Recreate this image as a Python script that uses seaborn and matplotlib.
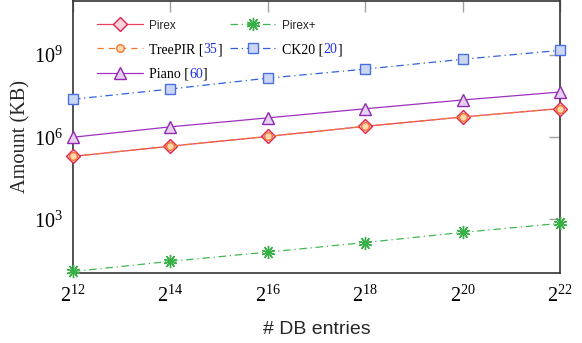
import numpy as np
import pandas as pd
import matplotlib
matplotlib.use("Agg")
import matplotlib.pyplot as plt
import seaborn as sns
from matplotlib.ticker import FixedLocator, NullLocator

sns.set_theme(style="white")
plt.rcParams['font.family'] = ['Liberation Serif', 'DejaVu Sans']
plt.rcParams['mathtext.fontset'] = 'custom'
plt.rcParams['mathtext.rm'] = 'Liberation Serif'
plt.rcParams['mathtext.it'] = 'Liberation Serif:italic'

# ---- data ----
db_entries = [2**12, 2**14, 2**16, 2**18, 2**20, 2**22]
pirex = [2.0e5, 4.7e5, 1.07e6, 2.5e6, 5.5e6, 1.12e7]
pirex_plus = [12.3, 29, 63, 141, 331, 708]
treepir = [2.0e5, 4.7e5, 1.07e6, 2.5e6, 5.5e6, 1.12e7]
ck20 = [2.45e7, 5.8e7, 1.45e8, 3.1e8, 7.1e8, 1.5e9]
piano = [1.0e6, 2.4e6, 5.1e6, 1.1e7, 2.3e7, 4.5e7]
x_tick_exps = [12, 14, 16, 18, 20, 22]
y_tick_exps = [3, 6, 9]

fig = plt.figure(figsize=(5.82, 3.43), dpi=100)
ax = fig.add_axes([73/582, 70/343, 487/582, 272.5/343])

styles = {
    "Pirex": dict(data=pirex, color="#e8405f", marker="D", ls="-", mfc="#fad2dc", mec="#e02050", ms=7.2, zorder=3),
    "TreePIR": dict(data=treepir, color="#f07830", marker="o", ls=(0, (5, 4)), mfc="#ffd8b0", mec="#f07830", ms=5.5, zorder=4),
    "Piano": dict(data=piano, color="#a030c0", marker="^", ls="-", mfc="#e6d0f2", mec="#9028b0", ms=9, zorder=3),
    "Pirex+": dict(data=pirex_plus, color="#40b850", marker=(10, 2, 0), ls=(0, (6, 3, 1, 3)), mfc="#40b850", mec="#38b048", ms=9.5, zorder=3),
    "CK20": dict(data=ck20, color="#3060e0", marker="s", ls=(0, (6, 3, 1, 3)), mfc="#cad6f4", mec="#4a70e0", ms=7, zorder=3),
}

handles = {}
for name, st in styles.items():
    df = pd.DataFrame({"x": db_entries, "y": st["data"]})
    sns.lineplot(data=df, x="x", y="y", ax=ax, color=st["color"], marker=st["marker"],
                 linestyle=st["ls"], markerfacecolor=st["mfc"], markeredgecolor=st["mec"],
                 markersize=st["ms"], markeredgewidth=1.0, linewidth=0.9, zorder=st["zorder"],
                 clip_on=False, label=name)
    handles[name] = ax.lines[-1]

ax.set_xscale("log", base=2)
ax.set_yscale("log")
ax.set_xlim(2**12, 2**22)
ax.set_ylim(10**1.035, 10**11.0)

ax.xaxis.set_major_locator(FixedLocator([2**e for e in x_tick_exps]))
ax.xaxis.set_minor_locator(NullLocator())
ax.set_xticklabels([r"$2^{%d}$" % e for e in x_tick_exps])
ax.yaxis.set_major_locator(FixedLocator([10**e for e in y_tick_exps]))
ax.yaxis.set_minor_locator(NullLocator())
ax.set_yticklabels([r"$10^{%d}$" % e for e in y_tick_exps])

ax.tick_params(which="both", direction="in", top=True, right=True, length=8, width=1.0,
               color="#a0a0a0", labelsize=14.5, labelcolor="black")
ax.tick_params(axis="x", pad=9)
ax.tick_params(axis="y", pad=7)
for sp in ax.spines.values():
    sp.set_color("#333333")
    sp.set_linewidth(1.2)

ax.set_xlabel("# DB entries", fontsize=14, family=["Liberation Sans"], labelpad=10)
ax.set_ylabel("Amount (KB)", fontsize=14.6, family=["Liberation Serif"], labelpad=3)

leg_fs_sans = 8.5
leg_fs_serif = 10
order = ["Pirex", "TreePIR", "Piano", "Pirex+", "CK20"]
labels = ["Pirex", "TreePIR [35]", "Piano [60]", "Pirex+", "CK20 [20]"]
leg = ax.legend([handles[n] for n in order], labels, ncol=2, loc="upper left",
                bbox_to_anchor=(24/487, 1 - 18.5/272.5), frameon=False, fontsize=leg_fs_serif,
                handlelength=3.3, handletextpad=0.45, columnspacing=0.6,
                labelspacing=0.82, borderaxespad=0.0, borderpad=0.0)
texts = leg.get_texts()
for t, lab in zip(texts, labels):
    if lab.startswith("Pirex"):
        t.set_fontfamily(["Liberation Sans"])
        t.set_fontsize(leg_fs_sans)
    else:
        t.set_fontfamily(["Liberation Serif"])
        t.set_alpha(0.0)

fig.canvas.draw()
for t, lab in zip(texts, labels):
    if "[" in lab:
        head, rest = lab.split("[")
        num = rest.rstrip("]")
        a0 = ax.annotate(head + "[", xy=(0, 0), xycoords=t, va="bottom", ha="left",
                         color="black", fontsize=leg_fs_serif, family=["Liberation Serif"], zorder=10)
        a1 = ax.annotate(num, xy=(1, 0), xycoords=a0, va="bottom", ha="left",
                         color="#2030e8", fontsize=leg_fs_serif, family=["Liberation Serif"], zorder=10)
        ax.annotate("]", xy=(1, 0), xycoords=a1, va="bottom", ha="left",
                    color="black", fontsize=leg_fs_serif, family=["Liberation Serif"], zorder=10)

fig.savefig("out.png", dpi=100)
